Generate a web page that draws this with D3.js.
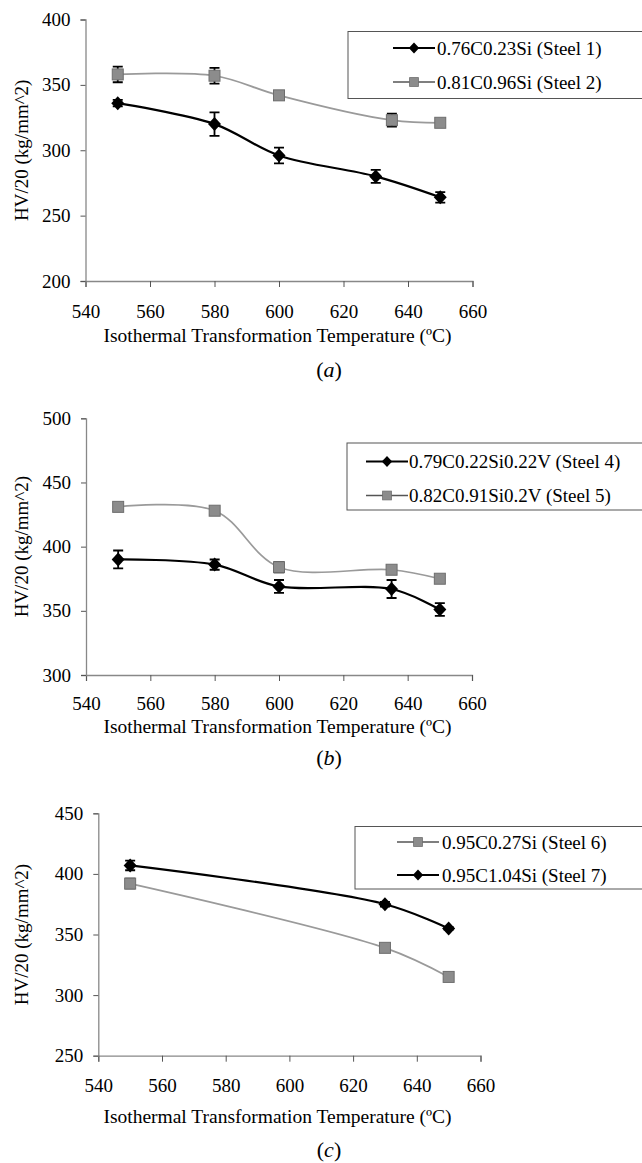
<!DOCTYPE html>
<html>
<head>
<meta charset="utf-8">
<script src="https://cdn.jsdelivr.net/npm/d3@7/dist/d3.min.js"></script>
<style>
  html, body { margin: 0; padding: 0; background: #fff; overflow: hidden; }
  svg { display: block; }
</style>
</head>
<body>
<svg id="chart" width="642" height="1163" font-family="Liberation Serif, Times New Roman, serif"></svg>
<script>
(function () {
  "use strict";

  // shared x axis
  const xTicks = [540, 560, 580, 600, 620, 640, 660];

  // panel (a)
  const yTicksA = [200, 250, 300, 350, 400];
  const steel1Temp = [550, 580, 600, 630, 650];
  const steel1HV = [336, 320, 296, 280, 264];
  const steel1Err = [2.5, 9, 6, 5, 4];
  const steel2Temp = [550, 580, 600, 635, 650];
  const steel2HV = [358, 357, 342, 323, 321];
  const steel2Err = [6, 6, 3, 5, 3];

  // panel (b)
  const yTicksB = [300, 350, 400, 450, 500];
  const steel4Temp = [550, 580, 600, 635, 650];
  const steel4HV = [390, 386, 369, 367, 351];
  const steel4Err = [7, 4, 5, 7, 5];
  const steel5Temp = [550, 580, 600, 635, 650];
  const steel5HV = [431, 428, 384, 382, 375];
  const steel5Err = [2, 3, 4, 3, 2];

  // panel (c)
  const yTicksC = [250, 300, 350, 400, 450];
  const steel6Temp = [550, 630, 650];
  const steel6HV = [392, 339, 315];
  const steel6Err = [4, 3, 2];
  const steel7Temp = [550, 630, 650];
  const steel7HV = [407, 375, 355];
  const steel7Err = [4, 2, 1];

  const xTitle = "Isothermal Transformation Temperature (\u00baC)";
  const yTitle = "HV/20 (kg/mm^2)";

  function zip(t, v, e) {
    return t.map((d, i) => ({ t: d, v: v[i], e: e[i] }));
  }

  const styles = {
    black: { line: "#000", width: 2.2, marker: "diamond" },
    gray: { line: "#9a9a9a", width: 1.7, marker: "square" },
  };

  const panels = [
    {
      caption: "a", x0: 85.5, x1: 472.5, yTop: 19.5, yBot: 281, yTicks: yTicksA,
      labelY: 311.5, xTitleY: 335, captionY: 369,
      legend: { x: 348, y: 31.5, h: 67, rows: [48, 82], lineX: 393, textX: 437 },
      series: [
        { name: "0.76C0.23Si (Steel 1)", style: "black", data: zip(steel1Temp, steel1HV, steel1Err) },
        { name: "0.81C0.96Si (Steel 2)", style: "gray", data: zip(steel2Temp, steel2HV, steel2Err) },
      ],
    },
    {
      caption: "b", x0: 86, x1: 472, yTop: 418.3, yBot: 675, yTicks: yTicksB,
      labelY: 703, xTitleY: 726, captionY: 757,
      legend: { x: 347, y: 443, h: 67, rows: [461.5, 495.5], lineX: 366, textX: 409 },
      series: [
        { name: "0.79C0.22Si0.22V (Steel 4)", style: "black", data: zip(steel4Temp, steel4HV, steel4Err) },
        { name: "0.82C0.91Si0.2V (Steel 5)", style: "gray", data: zip(steel5Temp, steel5HV, steel5Err) },
      ],
    },
    {
      caption: "c", x0: 98.3, x1: 480.5, yTop: 813.3, yBot: 1055.7, yTicks: yTicksC,
      labelY: 1085.5, xTitleY: 1116, captionY: 1149,
      legend: { x: 355, y: 826.5, h: 62.5, rows: [842, 875], lineX: 397, textX: 442 },
      series: [
        { name: "0.95C0.27Si (Steel 6)", style: "gray", data: zip(steel6Temp, steel6HV, steel6Err) },
        { name: "0.95C1.04Si (Steel 7)", style: "black", data: zip(steel7Temp, steel7HV, steel7Err) },
      ],
    },
  ];

  const svg = d3.select("#chart");

  function drawMarker(g, kind, x, y) {
    if (kind === "diamond") {
      g.append("path")
        .attr("d", `M${x},${y - 7}L${x + 6.5},${y}L${x},${y + 7}L${x - 6.5},${y}Z`)
        .attr("fill", "#000");
    } else {
      g.append("rect")
        .attr("x", x - 5.5).attr("y", y - 5.5)
        .attr("width", 11).attr("height", 11)
        .attr("fill", "#8c8c8c")
        .attr("stroke", "#6e6e6e")
        .attr("stroke-width", 1);
    }
  }

  function drawPanel(p) {
    const x = d3.scaleLinear().domain([540, 660]).range([p.x0, p.x1]);
    const y = d3.scaleLinear()
      .domain([p.yTicks[0], p.yTicks[p.yTicks.length - 1]])
      .range([p.yBot, p.yTop]);

    const g = svg.append("g");

    const xAxis = g.append("g")
      .attr("transform", `translate(0,${p.yBot})`)
      .call(d3.axisBottom(x).tickValues(xTicks).tickSize(6).tickFormat(d3.format("d")));
    const yAxis = g.append("g")
      .attr("transform", `translate(${p.x0},0)`)
      .call(d3.axisLeft(y).tickValues(p.yTicks).tickSize(5).tickPadding(10).tickFormat(d3.format("d")));

    [xAxis, yAxis].forEach((a) => {
      a.attr("font-family", null).attr("font-size", 19);
      a.select(".domain").attr("stroke", "#888").attr("stroke-width", 1.3);
      a.selectAll(".tick line").attr("stroke", "#555");
      a.selectAll(".tick text").attr("fill", "#000");
    });
    xAxis.selectAll(".tick text").attr("y", p.labelY - p.yBot).attr("dy", "0.35em");

    g.append("text")
      .attr("x", 277.5)
      .attr("y", p.xTitleY)
      .attr("text-anchor", "middle")
      .attr("dy", "0.35em")
      .attr("font-size", 19.5)
      .text(xTitle);

    g.append("text")
      .attr("transform", `translate(21.5,${(p.yTop + p.yBot) / 2}) rotate(-90)`)
      .attr("text-anchor", "middle")
      .attr("dy", "0.35em")
      .attr("font-size", 19)
      .text(yTitle);

    const cap = g.append("text")
      .attr("x", 329)
      .attr("y", p.captionY)
      .attr("text-anchor", "middle")
      .attr("dy", "0.35em")
      .attr("font-size", 22);
    cap.append("tspan").text("(");
    cap.append("tspan").attr("font-style", "italic").text(p.caption);
    cap.append("tspan").text(")");

    const line = d3.line()
      .x((d) => x(d.t))
      .y((d) => y(d.v))
      .curve(d3.curveCatmullRom.alpha(0.5));

    p.series.forEach((s) => {
      const st = styles[s.style];
      g.append("path")
        .datum(s.data)
        .attr("d", line)
        .attr("fill", "none")
        .attr("stroke", st.line)
        .attr("stroke-width", st.width);
    });

    p.series.forEach((s) => {
      const st = styles[s.style];
      const sg = g.append("g");
      s.data.forEach((d) => {
        const cx = x(d.t);
        const yh = y(d.v + d.e);
        const yl = y(d.v - d.e);
        sg.append("path")
          .attr("d", `M${cx - 5},${yh}H${cx + 5}M${cx},${yh}V${yl}M${cx - 5},${yl}H${cx + 5}`)
          .attr("fill", "none")
          .attr("stroke", "#000")
          .attr("stroke-width", 1.8);
        drawMarker(sg, st.marker, cx, y(d.v));
      });
    });

    // legend, box runs off the right edge like the scan
    const L = p.legend;
    const lg = g.append("g");
    lg.append("rect")
      .attr("x", L.x).attr("y", L.y)
      .attr("width", 660 - L.x).attr("height", L.h)
      .attr("fill", "#fff")
      .attr("stroke", "#555")
      .attr("stroke-width", 1);
    p.series.forEach((s, i) => {
      const st = styles[s.style];
      const ry = L.rows[i];
      lg.append("line")
        .attr("x1", L.lineX).attr("x2", L.lineX + 42)
        .attr("y1", ry).attr("y2", ry)
        .attr("stroke", s.style === "black" ? "#000" : "#555")
        .attr("stroke-width", s.style === "black" ? 2 : 1.4);
      const mg = lg.append("g").attr("transform", `translate(${L.lineX + 21},${ry}) scale(0.8)`);
      drawMarker(mg, st.marker, 0, 0);
      lg.append("text")
        .attr("x", L.textX)
        .attr("y", ry)
        .attr("dy", "0.35em")
        .attr("font-size", 19)
        .text(s.name);
    });
  }

  panels.forEach(drawPanel);
})();
</script>
</body>
</html>
